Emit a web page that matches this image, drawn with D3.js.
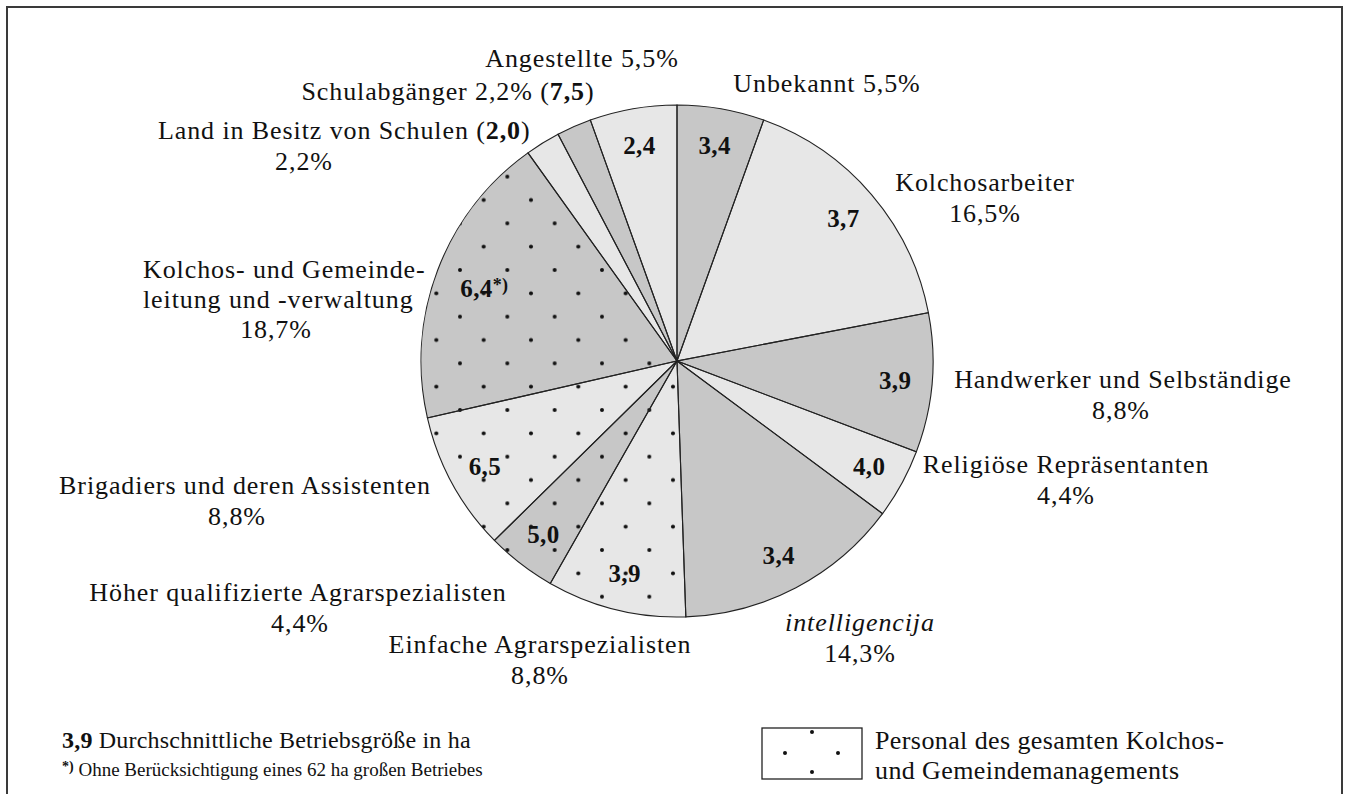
<!DOCTYPE html>
<html>
<head>
<meta charset="utf-8">
<script src="https://cdn.jsdelivr.net/npm/d3@7"></script>
<style>
body { margin: 0; background: #fff; }
text { font-family: "Liberation Serif", "Times New Roman", serif; fill: #111; }
</style>
</head>
<body>
<svg id="chart" width="1346" height="794"></svg>
<script>
// Anteile der Betriebe nach Berufsgruppe, im Uhrzeigersinn ab 12 Uhr
let categories = ["Unbekannt", "Kolchosarbeiter", "Handwerker und Selbständige", "Religiöse Repräsentanten",
    "intelligencija", "Einfache Agrarspezialisten", "Höher qualifizierte Agrarspezialisten",
    "Brigadiers und deren Assistenten", "Kolchos- und Gemeinde-|leitung und -verwaltung",
    "Land in Besitz von Schulen", "Schulabgänger", "Angestellte"];
let shares = [5.5, 16.5, 8.8, 4.4, 14.3, 8.8, 4.4, 8.8, 18.7, 2.2, 2.2, 5.5];
let avgSize = [3.4, 3.7, 3.9, 4.0, 3.4, 3.9, 5.0, 6.5, 6.4, 2.0, 7.5, 2.4];
let management = [0, 0, 0, 0, 0, 1, 1, 1, 1, 0, 0, 0];
let footnotes = ["", "", "", "", "", "", "", "", "*)", "", "", ""];

let legendValue = 3.9;
let legendText = "Durchschnittliche Betriebsgröße in ha";
let footnoteText = "Ohne Berücksichtigung eines 62 ha großen Betriebes";
let patternText = ["Personal des gesamten Kolchos-", "und Gemeindemanagements"];

let data = categories.map(function(c, i){
    return {name: c, share: shares[i], size: avgSize[i], dots: management[i], note: footnotes[i], i: i};
});

let fmt = function(v){ return d3.format(".1f")(v).replace(".", ","); };

let svg = d3.select("#chart");
let cx = 677, cy = 361, radius = 256;

svg.append("rect")
    .attr("x", 7).attr("y", 7)
    .attr("width", 1335).attr("height", 820)
    .attr("fill", "none")
    .attr("stroke", "#3a3a3a")
    .attr("stroke-width", 2);

let defs = svg.append("defs");
let pw = 47.33, ph = 46.67;
let pat = defs.append("pattern")
    .attr("id", "dots")
    .attr("patternUnits", "userSpaceOnUse")
    .attr("x", 460 - cx).attr("y", 270 - cy)
    .attr("width", pw).attr("height", ph);
[[0, 0], [pw, 0], [0, ph], [pw, ph], [pw / 2, ph / 2]].forEach(function(d){
    pat.append("circle").attr("cx", d[0]).attr("cy", d[1]).attr("r", 2).attr("fill", "#111");
});

let pie = d3.pie().sort(null).value(function(d){ return d.share; });
let arc = d3.arc().innerRadius(0).outerRadius(radius);
let arcs = pie(data);

let g = svg.append("g").attr("transform", "translate(" + cx + "," + cy + ")");

g.selectAll("path.slice")
    .data(arcs)
    .enter().append("path")
    .attr("class", "slice")
    .attr("d", arc)
    .attr("fill", function(d){ return d.data.i % 2 === 0 ? "#c7c7c7" : "#e7e7e7"; });

g.selectAll("path.dots")
    .data(arcs.filter(function(d){ return d.data.dots; }))
    .enter().append("path")
    .attr("class", "dots")
    .attr("d", arc)
    .attr("fill", "url(#dots)");

g.selectAll("path.edge")
    .data(arcs)
    .enter().append("path")
    .attr("class", "edge")
    .attr("d", arc)
    .attr("fill", "none")
    .attr("stroke", "#222")
    .attr("stroke-width", 1.1);

// Werte in den Segmenten
let innerR = data.map(function(d){ return d.note ? 206 : 219; });
arcs.forEach(function(d){
    if (d.data.share < 3) return;
    let r = innerR[d.data.i];
    let c = d3.arc().innerRadius(r).outerRadius(r).centroid(d);
    let t = g.append("text")
        .attr("x", c[0]).attr("y", c[1])
        .attr("dy", "0.35em")
        .attr("text-anchor", "middle")
        .style("font-size", "25px")
        .style("font-weight", "bold")
        .style("letter-spacing", "0.4px");
    t.append("tspan").text(fmt(d.data.size));
    if (d.data.note) {
        t.append("tspan").text(d.data.note)
            .style("font-size", "18px")
            .attr("dy", "-0.3em");
    }
});

// Beschriftungen außen: x, Grundlinie, Ausrichtung je Zeile
let labelPos = [
    [[827, 92, "middle"]],
    [[985, 191, "middle"], [985, 222, "middle"]],
    [[1123, 388, "middle"], [1121, 419, "middle"]],
    [[1066, 473, "middle"], [1066, 504, "middle"]],
    [[860, 631, "middle"], [860, 662, "middle"]],
    [[540, 653, "middle"], [540, 684, "middle"]],
    [[298, 601, "middle"], [300, 632, "middle"]],
    [[245, 494, "middle"], [237, 525, "middle"]],
    [[143, 278, "start"], [143, 308, "start"], [276, 338, "middle"]],
    [[158, 139, "start"], [304, 170, "middle"]],
    [[448, 100, "middle"]],
    [[582, 67, "middle"]]
];

data.forEach(function(d){
    let pos = labelPos[d.i];
    let lines = d.name.split("|").map(function(s){ return [{t: s, italic: d.name === "intelligencija"}]; });
    let pct = {t: fmt(d.share) + "%"};
    if (pos.length > lines.length) {
        lines.push([pct]);
    } else {
        lines[lines.length - 1].push({t: " "}, pct);
    }
    if (d.share < 3) {
        lines[0].push({t: " ("}, {t: fmt(d.size), bold: true}, {t: ")"});
    }
    lines.forEach(function(parts, k){
        let t = svg.append("text")
            .attr("x", pos[k][0]).attr("y", pos[k][1])
            .attr("text-anchor", pos[k][2])
            .style("font-size", "26px")
            .style("letter-spacing", "0.9px");
        parts.forEach(function(p){
            t.append("tspan").text(p.t)
                .style("font-weight", p.bold ? "bold" : null)
                .style("font-style", p.italic ? "italic" : null);
        });
    });
});

// Legende
let lg = svg.append("text").attr("x", 62).attr("y", 748)
    .style("font-size", "24px").style("letter-spacing", "0.2px");
lg.append("tspan").text(fmt(legendValue)).style("font-weight", "bold");
lg.append("tspan").text(" " + legendText);

let fn = svg.append("text").attr("x", 62).attr("y", 777)
    .style("font-size", "19px");
fn.append("tspan").text("*)").style("font-size", "14px").style("font-weight", "bold").attr("dy", "-0.45em");
fn.append("tspan").text(" " + footnoteText).attr("dy", "0.3em");

let box = svg.append("g").attr("transform", "translate(762,728)");
box.append("rect")
    .attr("width", 100).attr("height", 51)
    .attr("fill", "#fff")
    .attr("stroke", "#222")
    .attr("stroke-width", 1.3);
[[50, 4], [23, 25], [76, 25], [50, 44]].forEach(function(p){
    box.append("circle").attr("cx", p[0]).attr("cy", p[1]).attr("r", 2).attr("fill", "#111");
});

patternText.forEach(function(s, k){
    svg.append("text")
        .attr("x", 875).attr("y", 749 + k * 30)
        .style("font-size", "26px")
        .style("letter-spacing", "0.4px")
        .text(s);
});
</script>
</body>
</html>
